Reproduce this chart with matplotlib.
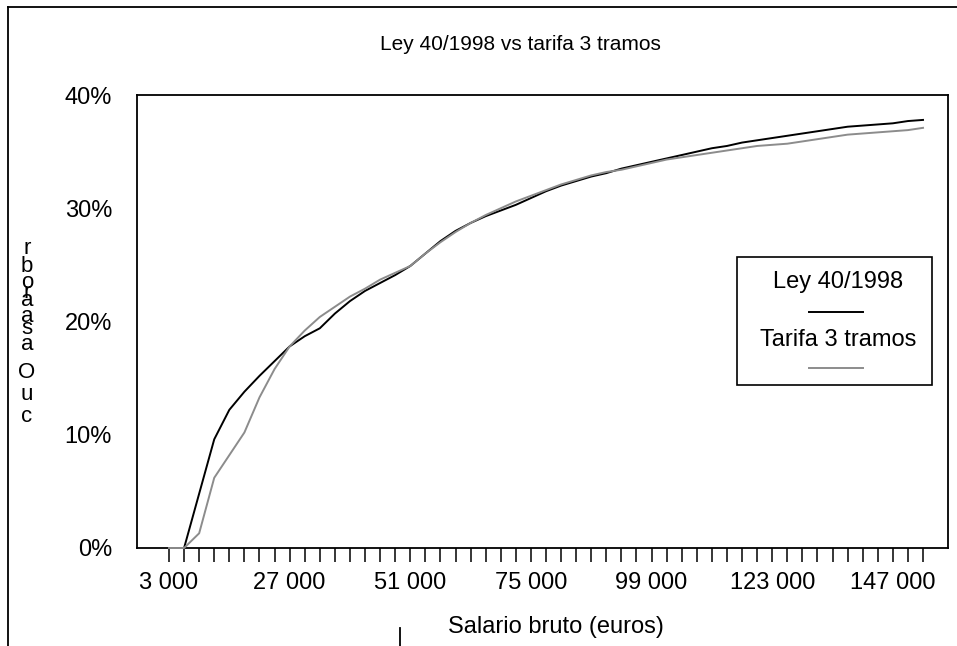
import numpy as np
import matplotlib
matplotlib.use("Agg")
import matplotlib.pyplot as plt
from matplotlib.lines import Line2D
from matplotlib.patches import Rectangle
from matplotlib.ticker import FixedLocator, FuncFormatter, PercentFormatter

plt.rcParams["font.family"] = ["Liberation Sans", "DejaVu Sans"]

# salario bruto, every 3 000 euros
salario = np.arange(3000, 153001, 3000)

# tipo medio (%)
ley_40_1998 = [
    0.0, 0.0, 4.8, 9.6, 12.2, 13.8, 15.2, 16.5, 17.8, 18.7,
    19.4, 20.7, 21.8, 22.7, 23.4, 24.1, 24.9, 26.0, 27.1, 28.0,
    28.7, 29.3, 29.8, 30.3, 30.9, 31.5, 32.0, 32.4, 32.8, 33.1,
    33.5, 33.8, 34.1, 34.4, 34.7, 35.0, 35.3, 35.5, 35.8, 36.0,
    36.2, 36.4, 36.6, 36.8, 37.0, 37.2, 37.3, 37.4, 37.5, 37.7,
    37.8,
]
tarifa_3_tramos = [
    0.0, 0.0, 1.3, 6.2, 8.2, 10.2, 13.3, 15.8, 17.8, 19.2,
    20.4, 21.3, 22.2, 22.9, 23.7, 24.3, 24.9, 26.0, 27.0, 27.9,
    28.7, 29.4, 30.0, 30.6, 31.1, 31.6, 32.1, 32.5, 32.9, 33.2,
    33.4, 33.7, 34.0, 34.3, 34.5, 34.7, 34.9, 35.1, 35.3, 35.5,
    35.6, 35.7, 35.9, 36.1, 36.3, 36.5, 36.6, 36.7, 36.8, 36.9,
    37.1,
]

label_ticks = np.arange(3000, 147001, 24000)
y_ticks = [0, 10, 20, 30, 40]

# stacked glyphs of the broken vertical axis title (top to bottom)
ylabel_chars = ["r", "b", "o", "r", "a", "a", "s", "a", "O", "u", "c"]
ylabel_ypix = [249, 266, 283, 292, 300, 316, 328, 345, 372, 394, 417]

W, H = 957, 646
fig = plt.figure(figsize=(W / 100, H / 100), dpi=100)
ax = fig.add_axes([137 / W, 1 - 548 / H, 811 / W, 453 / H])

ax.plot(salario, ley_40_1998, color="black", lw=1.4, clip_on=False, zorder=4)
ax.plot(salario, tarifa_3_tramos, color="#8c8c8c", lw=1.4, clip_on=False, zorder=4)

ax.set_xlim(-3366, 157970)
ax.set_ylim(0, 40)

ax.xaxis.set_major_locator(FixedLocator(label_ticks))
ax.xaxis.set_minor_locator(FixedLocator(salario))
ax.xaxis.set_major_formatter(FuncFormatter(lambda v, p: f"{int(v):,}".replace(",", " ")))
ax.tick_params(axis="x", which="both", direction="out", length=10, width=1.1,
               color="black", labelsize=17, pad=7)
ax.set_yticks(y_ticks)
ax.yaxis.set_major_formatter(PercentFormatter(decimals=0))
ax.tick_params(axis="y", length=0, labelsize=17, pad=18)

for s in ax.spines.values():
    s.set_linewidth(1.3)

ax.set_xlabel("Salario bruto (euros)", fontsize=17)
ax.xaxis.set_label_coords(0.516, -0.15)

fig.text(520 / W, 1 - 45 / H, "Ley 40/1998 vs tarifa 3 tramos", fontsize=15,
         ha="center", va="center")

for ch, yp in zip(ylabel_chars, ylabel_ypix):
    fig.text(27 / W, 1 - yp / H, ch, fontsize=16, ha="center", va="center")

# legend in the excel layout: text over its line sample
ax.add_patch(Rectangle((0.740, 0.360), 0.240, 0.282, transform=ax.transAxes,
                       facecolor="white", edgecolor="black", lw=1.2, zorder=5))
ax.text(0.864, 0.587, "Ley 40/1998", transform=ax.transAxes, fontsize=17,
        ha="center", va="center", zorder=6)
ax.add_line(Line2D([0.828, 0.895], [0.521, 0.521], transform=ax.transAxes,
                   color="black", lw=1.4, zorder=6))
ax.text(0.864, 0.459, "Tarifa 3 tramos", transform=ax.transAxes, fontsize=17,
        ha="center", va="center", zorder=6)
ax.add_line(Line2D([0.828, 0.895], [0.397, 0.397], transform=ax.transAxes,
                   color="#8c8c8c", lw=1.4, zorder=6))

# outer chart border (partly cut off)
fig.add_artist(Line2D([8 / W, 8 / W], [0, 1 - 7 / H], color="black", lw=1.3))
fig.add_artist(Line2D([8 / W, 1], [1 - 7 / H, 1 - 7 / H], color="black", lw=1.3))
fig.add_artist(Line2D([400 / W, 400 / W], [0, 1 - 628 / H], color="black", lw=1.3))

fig.savefig("out.png", dpi=100)
